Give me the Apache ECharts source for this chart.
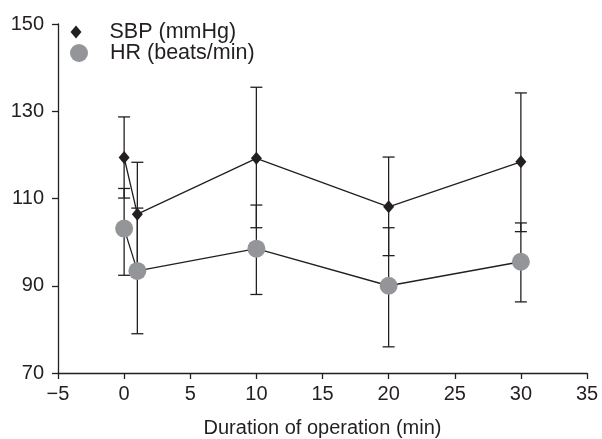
<!DOCTYPE html>
<html>
<head>
<meta charset="utf-8">
<script src="https://cdn.jsdelivr.net/npm/echarts@6/dist/echarts.min.js"></script>
<style>html,body{margin:0;padding:0;background:#fff}#c{width:602px;height:439px}</style>
</head>
<body>
<div id="c"></div>
<script>
// Data
var times = [0, 1, 10, 20, 30];
var sbpMean = [119.4, 106.4, 119.2, 108.1, 118.4];
var sbpHigh = [128.7, 118.3, 135.5, 119.5, 134.2];
var sbpLow  = [110.1, 94.5, 103.3, 96.9, 102.4];
var hrMean  = [103.1, 93.4, 98.5, 90.0, 95.5];
var hrHigh  = [112.3, 107.8, 108.5, 103.3, 104.4];
var hrLow   = [92.4, 79.0, 88.0, 76.0, 86.3];
var xTicks = [-5, 0, 5, 10, 15, 20, 25, 30, 35];
var yTicks = [70, 90, 110, 130, 150];
var sbpName = 'SBP (mmHg)';
var hrName = 'HR (beats/min)';
var xTitle = 'Duration of operation (min)';

var ink = '#231f20';
var grey = '#939598';
var font = 'Liberation Sans, Arial, Helvetica, sans-serif';

function pairs(xs, ys) { return xs.map(function (x, i) { return [x, ys[i]]; }); }
function errData(xs, lo, hi) { return xs.map(function (x, i) { return [x, lo[i], hi[i]]; }); }

function errRender(params, api) {
  var x = api.value(0);
  var lo = api.coord([x, api.value(1)]);
  var hi = api.coord([x, api.value(2)]);
  var hw = 6;
  var st = { stroke: ink, lineWidth: 1.3, fill: null };
  return {
    type: 'group',
    children: [
      { type: 'line', shape: { x1: hi[0], y1: hi[1], x2: lo[0], y2: lo[1] }, style: st },
      { type: 'line', shape: { x1: hi[0] - hw, y1: hi[1], x2: hi[0] + hw, y2: hi[1] }, style: st },
      { type: 'line', shape: { x1: lo[0] - hw, y1: lo[1], x2: lo[0] + hw, y2: lo[1] }, style: st }
    ]
  };
}

function legendText(gap) {
  return {
    fontFamily: font, fontSize: 21.5, color: ink,
    rich: {
      g: { width: gap },
      t: { fontFamily: font, fontSize: 21.5, color: ink }
    }
  };
}

var chart = echarts.init(document.getElementById('c'), null, { renderer: 'canvas' });
chart.setOption({
  animation: false,
  backgroundColor: '#fff',
  textStyle: { fontFamily: font, color: ink },
  grid: { left: 58, right: 15, top: 24, bottom: 66, containLabel: false, outerBoundsMode: 'none' },
  legend: [
    {
      data: [{ name: sbpName, icon: 'diamond' }],
      left: 70.5, top: 21, padding: 0,
      itemWidth: 11, itemHeight: 13,
      formatter: function (n) { return '{g|}{t|' + n + '}'; },
      textStyle: legendText(23)
    },
    {
      data: [{ name: hrName, icon: 'circle' }],
      left: 70, top: 42, padding: 0,
      itemWidth: 18, itemHeight: 18,
      formatter: function (n) { return '{g|}{t|' + n + '}'; },
      textStyle: legendText(17)
    }
  ],
  xAxis: {
    type: 'value',
    min: xTicks[0], max: xTicks[xTicks.length - 1], interval: 5,
    name: xTitle, nameLocation: 'middle', nameGap: 45,
    nameTextStyle: { fontFamily: font, fontSize: 20, color: ink },
    axisLine: { show: true, onZero: false, lineStyle: { color: ink, width: 1.3 } },
    axisTick: { show: true, inside: false, length: 6, lineStyle: { color: ink, width: 1.3 } },
    axisLabel: { fontFamily: font, fontSize: 20, color: ink, margin: 11,
      formatter: function (v) { return String(v).replace('-', '\u2212'); } },
    splitLine: { show: false }
  },
  yAxis: {
    type: 'value',
    min: yTicks[0], max: yTicks[yTicks.length - 1], interval: 20,
    axisLine: { show: true, onZero: false, lineStyle: { color: ink, width: 1.3 } },
    axisTick: { show: true, inside: false, length: 6, lineStyle: { color: ink, width: 1.3 } },
    axisLabel: { fontFamily: font, fontSize: 20, color: ink, margin: 14 },
    splitLine: { show: false }
  },
  series: [
    {
      type: 'custom', name: 'sbpErr', renderItem: errRender,
      data: errData(times, sbpLow, sbpHigh), z: 1, silent: true,
      encode: { x: 0, y: [1, 2] }
    },
    {
      type: 'custom', name: 'hrErr', renderItem: errRender,
      data: errData(times, hrLow, hrHigh), z: 1, silent: true,
      encode: { x: 0, y: [1, 2] }
    },
    {
      type: 'line', name: sbpName, data: pairs(times, sbpMean),
      symbol: 'diamond', symbolSize: [11, 13], showAllSymbol: true,
      itemStyle: { color: ink }, lineStyle: { color: ink, width: 1.3 }, z: 3
    },
    {
      type: 'line', name: hrName, data: pairs(times, hrMean),
      symbol: 'circle', symbolSize: 18, showAllSymbol: true,
      itemStyle: { color: grey, borderWidth: 0 }, lineStyle: { color: ink, width: 1.3 }, z: 2
    }
  ]
});
</script>
</body>
</html>
